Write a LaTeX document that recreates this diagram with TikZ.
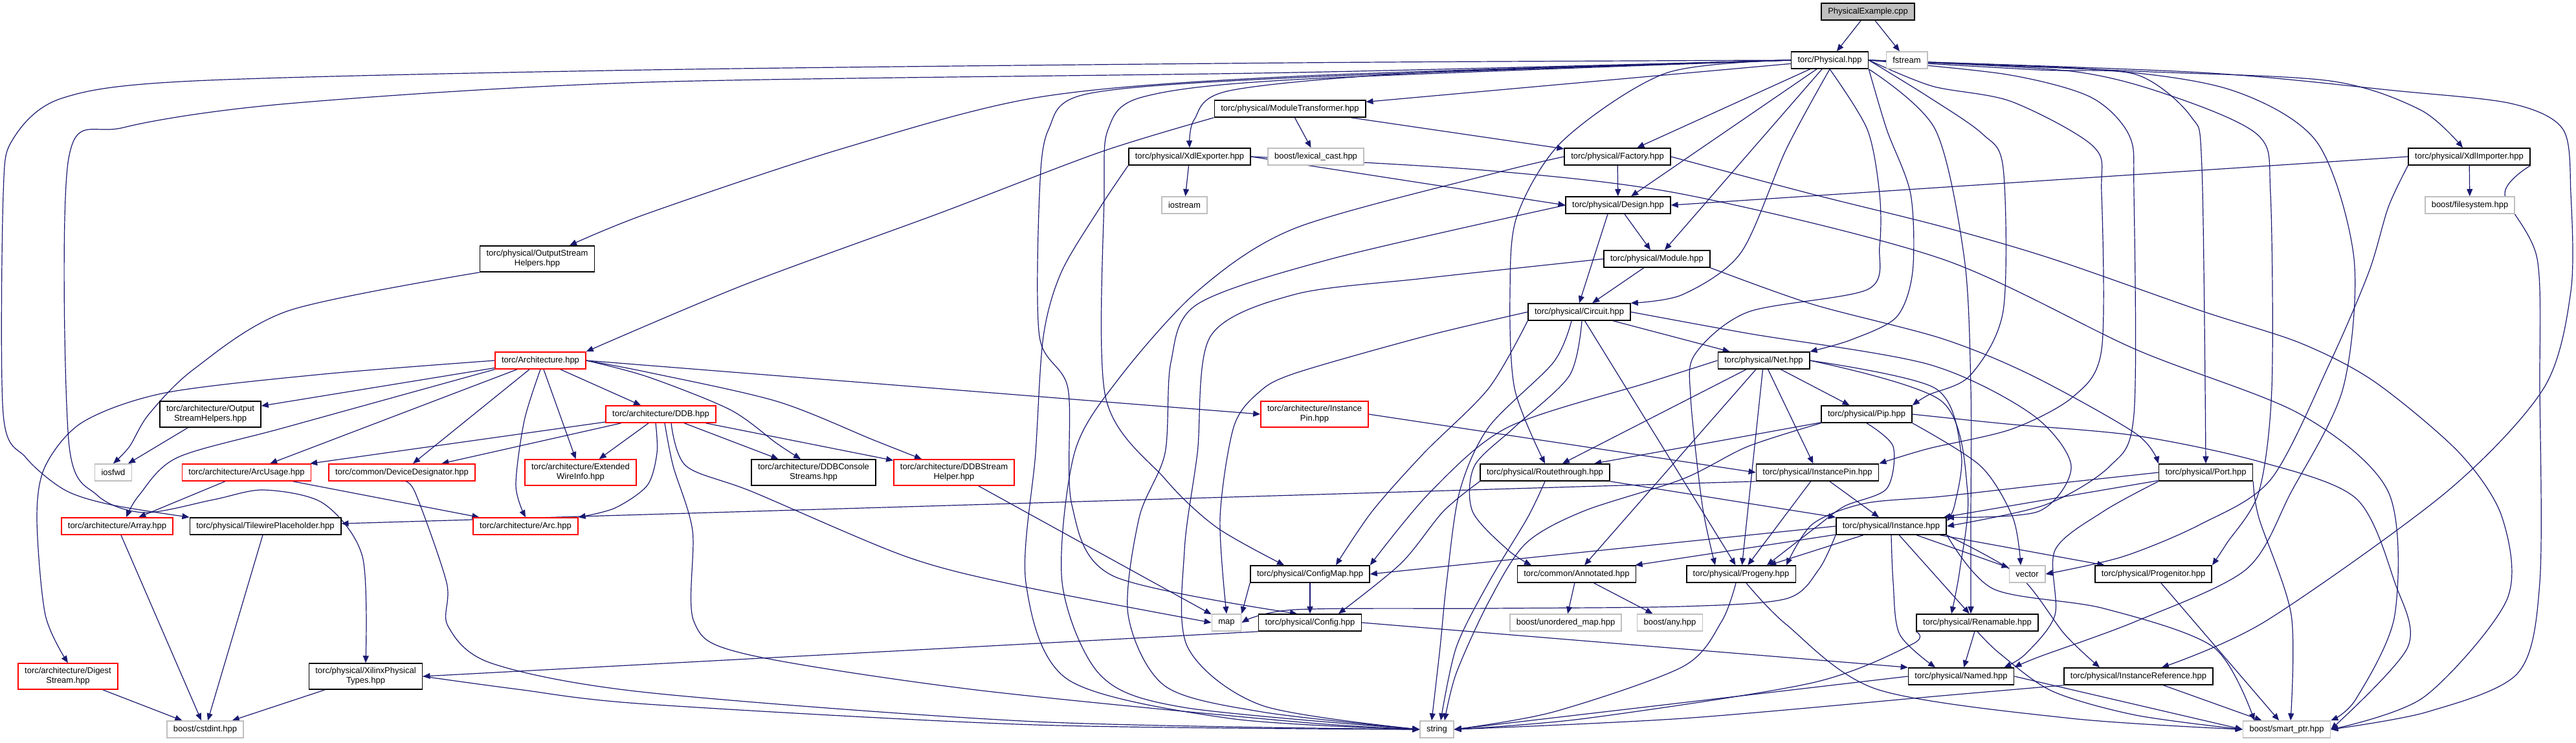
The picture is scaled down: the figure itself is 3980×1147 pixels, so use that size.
\documentclass[tikz,border=0pt]{standalone}
\usepackage{fontspec}
\setmainfont{Liberation Sans}
\usetikzlibrary{arrows.meta}
\definecolor{depblue}{RGB}{25,25,112}
\definecolor{sysgray}{RGB}{191,191,191}
\definecolor{truncred}{RGB}{255,0,0}
\pgfdeclarelayer{edges}
\pgfsetlayers{edges,main}
\tikzset{
  font=\fontsize{6.5}{7.5}\selectfont,
  >={Triangle[length=5.5pt,width=4.5pt]},
  hdr/.style={
    draw=black,
    line width=0.8pt,
    fill=white,
    align=center,
    inner xsep=5pt,
    inner ysep=0pt,
    minimum height=13pt
  },
  hdrtwo/.style={hdr,minimum height=20pt},
  trunc/.style={hdr,draw=truncred},
  trunctwo/.style={hdrtwo,draw=truncred},
  sys/.style={hdr,draw=sysgray},
  srcfile/.style={hdr,fill=sysgray},
  dep/.style={->,draw=depblue,line width=0.6pt}
}

\begin{document}
\begin{tikzpicture}[x=0.5pt,y=-0.5pt]
  \useasboundingbox (0,0) rectangle (3980,1147);

  \node[srcfile] at (2886,18) (root) {PhysicalExample.cpp};
  \node[hdr] at (2827,93) (phys) {torc/Physical.hpp};
  \node[sys] at (2946,93) (fstream) {fstream};

  \node[hdr] at (1993,168) (modtr) {torc/physical/ModuleTransformer.hpp};
  \node[sys] at (2033,242) (lexcast) {boost/lexical\_cast.hpp};
  \node[hdr] at (1838,242) (xdlexp) {torc/physical/XdlExporter.hpp};
  \node[sys] at (1830,317) (iostream) {iostream};
  \node[hdr] at (2499,242) (factory) {torc/physical/Factory.hpp};
  \node[hdr] at (2500,317) (design) {torc/physical/Design.hpp};
  \node[hdr] at (3815,242) (xdlimp) {torc/physical/XdlImporter.hpp};
  \node[sys] at (3816,317) (fsys) {boost/filesystem.hpp};

  \node[hdrtwo] at (830,400) (posh) {torc/physical/OutputStream\\Helpers.hpp};
  \node[hdr] at (2560,400) (module) {torc/physical/Module.hpp};
  \node[hdr] at (2440,482) (circuit) {torc/physical/Circuit.hpp};
  \node[trunc] at (835,557) (arch) {torc/Architecture.hpp};
  \node[hdr] at (2725,557) (net) {torc/physical/Net.hpp};

  \node[hdrtwo] at (325,640) (aosh) {torc/architecture/Output\\StreamHelpers.hpp};
  \node[trunc] at (1021,640) (ddb) {torc/architecture/DDB.hpp};
  \node[trunctwo] at (2031,640) (ainstpin) {torc/architecture/Instance\\Pin.hpp};
  \node[hdr] at (2884,640) (pip) {torc/physical/Pip.hpp};

  \node[sys] at (175,730) (iosfwd) {iosfwd};
  \node[trunc] at (381,730) (arcusage) {torc/architecture/ArcUsage.hpp};
  \node[trunc] at (621,730) (devdes) {torc/common/DeviceDesignator.hpp};
  \node[trunctwo] at (897,730) (extwire) {torc/architecture/Extended\\WireInfo.hpp};
  \node[hdrtwo] at (1257,730) (ddbcons) {torc/architecture/DDBConsole\\Streams.hpp};
  \node[trunctwo] at (1474,730) (ddbstream) {torc/architecture/DDBStream\\Helper.hpp};
  \node[hdr] at (2387,730) (routethru) {torc/physical/Routethrough.hpp};
  \node[hdr] at (2808,730) (instpin) {torc/physical/InstancePin.hpp};
  \node[hdr] at (3408,730) (port) {torc/physical/Port.hpp};

  \node[trunc] at (181,813) (array) {torc/architecture/Array.hpp};
  \node[hdr] at (410,813) (tileph) {torc/physical/TilewirePlaceholder.hpp};
  \node[trunc] at (812,813) (arc) {torc/architecture/Arc.hpp};
  \node[hdr] at (2922,813) (instance) {torc/physical/Instance.hpp};

  \node[hdr] at (2024,887) (configmap) {torc/physical/ConfigMap.hpp};
  \node[hdr] at (2436,887) (annotated) {torc/common/Annotated.hpp};
  \node[hdr] at (2690,887) (progeny) {torc/physical/Progeny.hpp};
  \node[sys] at (3132,887) (vector) {vector};
  \node[hdr] at (3327,887) (progenitor) {torc/physical/Progenitor.hpp};

  \node[sys] at (1895,962) (map) {map};
  \node[hdr] at (2024,962) (config) {torc/physical/Config.hpp};
  \node[sys] at (2419,962) (unordmap) {boost/unordered\_map.hpp};
  \node[sys] at (2580,962) (any) {boost/any.hpp};
  \node[hdr] at (3055,962) (renamable) {torc/physical/Renamable.hpp};

  \node[trunctwo] at (105,1045) (digest) {torc/architecture/Digest\\Stream.hpp};
  \node[hdrtwo] at (565,1045) (xilinx) {torc/physical/XilinxPhysical\\Types.hpp};
  \node[hdr] at (3030,1045) (named) {torc/physical/Named.hpp};
  \node[hdr] at (3304,1045) (instref) {torc/physical/InstanceReference.hpp};

  \node[sys] at (317,1127) (cstdint) {boost/cstdint.hpp};
  \node[sys] at (2220,1127) (string) {string};
  \node[sys] at (3533,1127) (smartptr) {boost/smart\_ptr.hpp};

  \begin{pgfonlayer}{edges}
  \draw[dep] (root) -- (phys);
  \draw[dep] (root) -- (fstream);

  \draw[dep] plot[smooth] coordinates {(phys.west) (2000,97) (1000,108) (300,125) (95,152) (20,215) (5,300) (5,640) (40,707) (100,757) (172,780) (tileph.north west)};
  \draw[dep] plot[smooth] coordinates {(phys.west) (2000,112) (1000,127) (446,160) (191,197) (106,245) (106,680) (150,765) (223,792) (330,772) (408,757) (500,778) (560,860) (xilinx.north)};
  \draw[dep] plot[smooth] coordinates {(phys.west) (2000,118) (1606,150) (1300,230) (1000,330) ([xshift=25pt]posh.north)};
  \draw[dep] plot[smooth] coordinates {(phys.west) (2000,120) (1680,145) (1620,200) (1606,300) (1606,520) (1650,600) (1656,780) (1720,890) ([xshift=-10pt]config.north)};
  \draw[dep] plot[smooth] coordinates {(phys.west) (2000,123) (1765,150) (1712,200) (1706,300) (1708,613) (1800,740) (1880,815) ([xshift=-20pt]configmap.north)};
  \draw[dep] (phys) -- (modtr);
  \draw[dep] plot[smooth] coordinates {(phys.west) (2200,112) (1900,140) (1845,185) (xdlexp.north)};
  \draw[dep] (phys) -- (factory);
  \draw[dep] (phys) -- (design);
  \draw[dep] (phys) -- (module);
  \draw[dep] plot[smooth] coordinates {(phys.south) (2760,230) (2690,390) (2600,455) (circuit.north east)};
  \draw[dep] plot[smooth] coordinates {(phys.west) (2574,113) (2415,217) (2344,333) (2333,450) (2340,600) (routethru.north)};
  \draw[dep] plot[smooth] coordinates {(phys.south east) (2915,200) (2952,300) (2955,420) (2930,490) (2860,525) (net.north east)};
  \draw[dep] plot[smooth] coordinates {(phys.south) (2885,200) (2904,300) (2904,380) (2886,447) (2701,482) (2619,547) (2612,613) (2630,780) ([xshift=-20pt]progeny.north)};
  \draw[dep] plot[smooth] coordinates {(phys.east) (2980,150) (3063,207) (3095,260) (3095,480) (3044,580) (2980,610) (pip.north east)};
  \draw[dep] plot[smooth] coordinates {(phys.east) (2985,133) (3108,157) (3235,227) (3247,300) (3247,540) (3203,613) (3108,663) (2980,693) (instpin.north east)};
  \draw[dep] plot[smooth] coordinates {(phys.east) (3100,115) (3230,150) (3290,210) (3297,300) (3297,640) (3260,720) (3160,780) (instance.east)};
  \draw[dep] plot[smooth] coordinates {(phys.east) (3150,108) (3300,115) (3385,180) (3402,260) (port.north)};
  \draw[dep] plot[smooth] coordinates {(phys.east) (3200,110) (3360,150) (3490,210) (3508,300) (3510,600) (3490,760) (3440,840) (progenitor.north east)};
  \draw[dep] plot[smooth] coordinates {(phys.east) (3250,108) (3450,140) (3580,220) (3637,400) (3620,600) (3540,760) (3470,880) (3300,960) (3150,1015) (named.north east)};
  \draw[dep] plot[smooth] coordinates {(phys.south east) (2990,200) (3035,400) (3045,600) (3045,800) ([xshift=-5pt]renamable.north)};
  \draw[dep] plot[smooth] coordinates {(phys.east) (3300,110) (3600,125) (3740,170) ([xshift=-5pt]xdlimp.north)};
  \draw[dep] plot[smooth] coordinates {(phys.east) (3400,112) (3700,140) (3880,160) (3960,200) (3972,300) (3972,450) (3930,600) (3780,760) (3500,960) ([xshift=18pt]instref.north)};

  \draw[dep] (modtr) -- (lexcast);
  \draw[dep] (modtr) -- (factory);
  \draw[dep] plot[smooth] coordinates {(modtr.south west) (1700,235) (1450,330) (1150,440) (arch.north east)};

  \draw[dep] (xdlexp) -- (iostream);
  \draw[dep] (xdlexp.east) -- (design.west);
  \draw[dep] plot[smooth] coordinates {(xdlexp.south west) (1700,320) (1640,420) (1612,520) (1600,700) (1585,900) (1650,1050) (1900,1110) (string.west)};
  \draw[dep] plot[smooth] coordinates {(xdlexp.east) (2293,263) (2600,300) (3000,400) (3300,540) (3554,640) (3690,760) (3700,950) (3640,1080) (smartptr.north east)};

  \draw[dep] (factory) -- (design);
  \draw[dep] plot[smooth] coordinates {(factory.west) (2300,270) (2000,353) (1850,450) (1727,587) (1660,700) (1641,900) (1700,1043) (1829,1093) (string.west)};
  \draw[dep] plot[smooth] coordinates {(factory.east) (2800,300) (3000,350) (3171,400) (3400,480) (3554,530) (3669,590) (3800,700) (3866,800) (3873,927) (3745,1077) (smartptr.east)};

  \draw[dep] (design) -- (module);
  \draw[dep] ([xshift=-8pt]design.south) -- (circuit.north);
  \draw[dep] plot[smooth] coordinates {(design.west) (2057,400) (1850,470) (1809,560) (1800,700) (1760,800) (1743,950) (1800,1060) (1950,1100) (string.west)};

  \draw[dep] (xdlimp) -- (fsys);
  \draw[dep] (xdlimp.west) -- (design.east);
  \draw[dep] plot[smooth] coordinates {(xdlimp.south west) (3690,320) (3660,420) (3600,560) (3509,740) (3400,810) (3280,860) (vector.east)};
  \draw[dep] plot[smooth] coordinates {(xdlimp.south east) (3870,300) (3920,400) (3924,600) (3924,900) (3890,1040) (3750,1100) (smartptr.east)};

  \draw[dep] (module) -- (circuit);
  \draw[dep] plot[smooth] coordinates {(module.south east) (2800,470) (3000,523) (3139,580) (3300,670) (port.north west)};
  \draw[dep] plot[smooth] coordinates {(module.west) (2200,430) (2000,455) (1870,520) (1850,700) (1830,850) (1835,1000) (1950,1090) (string.west)};

  \draw[dep] (circuit) -- (net);
  \draw[dep] plot[smooth] coordinates {(circuit.west) (2200,520) (2000,577) (1944,607) (1906,660) (1885,800) (map.north)};
  \draw[dep] plot[smooth] coordinates {(circuit.south west) (2300,600) (2200,700) (2120,790) ([xshift=20pt]configmap.north)};
  \draw[dep] plot[smooth] coordinates {([xshift=-6pt]circuit.south) (2400,560) (2300,660) (2255,760) (2235,900) (2225,1000) ([xshift=-4pt]string.north)};
  \draw[dep] plot[smooth] coordinates {([xshift=2pt]circuit.south) (2425,580) (2340,660) (2278,720) (2275,790) (2330,850) ([xshift=-35pt]annotated.north)};
  \draw[dep] (circuit) -- (progeny);
  \draw[dep] plot[smooth] coordinates {(circuit.east) (2700,515) (2980,563) (3139,640) (3200,720) (3150,790) (instance.north east)};

  \draw[dep] (net) -- (pip);
  \draw[dep] (net) -- (routethru);
  \draw[dep] (net) -- (instpin);
  \draw[dep] (net) -- (annotated);
  \draw[dep] (net) -- (progeny);
  \draw[dep] plot[smooth] coordinates {(net.west) (2550,590) (2330,660) (2210,760) (configmap.north east)};
  \draw[dep] plot[smooth] coordinates {(net.east) (2990,600) (3030,700) (3020,780) ([yshift=4pt]instance.east)};
  \draw[dep] plot[smooth] coordinates {(net.east) (3000,620) (3040,760) (3028,880) ([xshift=-20pt]renamable.north)};

  \draw[dep] (pip) -- (routethru);
  \draw[dep] plot[smooth] coordinates {(pip.south) (2925,690) (2915,755) (2850,782) (2805,815) ([xshift=20pt]progeny.north)};
  \draw[dep] plot[smooth] coordinates {(pip.south west) (2700,690) (2600,740) (2446,790) (2357,840) (2300,930) (2250,1040) ([xshift=6pt]string.north)};
  \draw[dep] plot[smooth] coordinates {(pip.east) (3100,655) (3299,673) (3490,713) (3640,770) (3700,900) (3720,1000) (smartptr.east)};
  \draw[dep] plot[smooth] coordinates {(pip.south east) (3060,720) (3110,800) ([xshift=-5pt]vector.north)};

  \draw[dep] plot[smooth] coordinates {(routethru.south west) (2230,790) (2165,870) ([xshift=22pt]config.north)};
  \draw[dep] plot[smooth] coordinates {(routethru.south) (2360,800) (2300,900) (2250,1000) ([xshift=3pt]string.north)};
  \draw[dep] (routethru.south east) -- (instance.north west);

  \draw[dep] (instpin) -- (instance);
  \draw[dep] (instpin) -- (progeny);
  \draw[dep] (instpin.south west) -- ([yshift=2pt]tileph.east);

  \draw[dep] (port) -- (instance);
  \draw[dep] plot[smooth] coordinates {(port.west) (3150,750) (3000,767) (2880,778) (2800,810) ([xshift=35pt]progeny.north)};
  \draw[dep] plot[smooth] coordinates {(port.south west) (3250,790) (3175,850) (3175,950) (3130,1010) ([xshift=-8pt]named.north east)};
  \draw[dep] plot[smooth] coordinates {(port.south east) (3490,800) (3540,950) ([xshift=3pt]smartptr.north)};

  \draw[dep] (instance.west) -- (configmap.east);
  \draw[dep] (instance) -- (annotated);
  \draw[dep] (instance) -- (progeny);
  \draw[dep] plot[smooth] coordinates {(instance.south west) (2810,880) (2760,925) (2600,937) (2300,940) (2000,942) (map.east)};
  \draw[dep] plot[smooth] coordinates {(instance.south) (2925,900) (2935,980) ([xshift=-20pt]named.north)};
  \draw[dep] (instance) -- (renamable);
  \draw[dep] (instance) -- (vector);
  \draw[dep] (instance) -- (progenitor);
  \draw[dep] plot[smooth] coordinates {(instance.south east) (3120,890) (3190,980) ([xshift=-30pt]instref.north)};
  \draw[dep] plot[smooth] coordinates {(instance.south east) (3080,910) (3250,940) (3420,1000) ([xshift=-25pt]smartptr.north)};

  \draw[dep] (configmap) -- (config);
  \draw[dep] (configmap.south west) -- (map.north east);
  \draw[dep] (config.south west) -- (xilinx.east);
  \draw[dep] (config.east) -- (named.north west);
  \draw[dep] (annotated) -- (unordmap);
  \draw[dep] (annotated) -- (any);
  \draw[dep] plot[smooth] coordinates {([xshift=-4pt]progeny.south) (2660,960) (2600,1030) (2400,1100) (string.east)};
  \draw[dep] plot[smooth] coordinates {([xshift=4pt]progeny.south) (2760,965) (2900,1065) (3200,1110) (smartptr.west)};
  \draw[dep] (progenitor) -- (smartptr);
  \draw[dep] (renamable) -- (named);
  \draw[dep] plot[smooth] coordinates {(renamable.south) (3090,1010) (3171,1068) (3300,1105) (smartptr.west)};
  \draw[dep] plot[smooth] coordinates {(renamable.south west) (2955,995) (2800,1055) (2450,1110) (string.east)};
  \draw[dep] (named.west) -- (string.east);
  \draw[dep] (named.east) -- (smartptr.west);
  \draw[dep] plot[smooth] coordinates {(instref.south west) (3000,1075) (2600,1110) (string.east)};
  \draw[dep] (instref) -- (smartptr);

  \draw[dep] (xilinx) -- (cstdint);
  \draw[dep] plot[smooth] coordinates {(xilinx.east) (800,1065) (1000,1088) (1600,1120) (string.west)};
  \draw[dep] (tileph) -- (cstdint);
  \draw[dep] (array) -- (cstdint);
  \draw[dep] (digest) -- (cstdint);

  \draw[dep] plot[smooth] coordinates {(arch.west) (500,578) (255,607) (128,652) (70,720) (57,800) (70,950) (digest.north)};
  \draw[dep] (arch) -- (aosh);
  \draw[dep] plot[smooth] coordinates {(arch.south west) (442,660) (274,707) (215,765) ([xshift=7pt]array.north)};
  \draw[dep] (arch) -- (arcusage);
  \draw[dep] (arch) -- (devdes);
  \draw[dep] plot[smooth] coordinates {(arch.south) (810,650) (797,750) (arc.north)};
  \draw[dep] (arch) -- (extwire);
  \draw[dep] (arch) -- (ddb);
  \draw[dep] plot[smooth] coordinates {(arch.east) (1000,582) (1128,633) (1200,685) ([xshift=-10pt]ddbcons.north)};
  \draw[dep] plot[smooth] coordinates {(arch.east) (1000,575) (1200,620) (1350,680) ([xshift=-25pt]ddbstream.north)};
  \draw[dep] (arch.east) -- (ainstpin.west);
  \draw[dep] (aosh) -- (iosfwd);
  \draw[dep] plot[smooth] coordinates {(posh.south west) (446,480) (300,570) (230,640) (200,690) (iosfwd.north)};

  \draw[dep] (ddb) -- (arcusage);
  \draw[dep] (ddb) -- (devdes);
  \draw[dep] (ddb) -- (extwire);
  \draw[dep] (ddb) -- (ddbcons);
  \draw[dep] (ddb) -- (ddbstream);
  \draw[dep] plot[smooth] coordinates {([xshift=-4pt]ddb.south) (1015,700) (1000,750) (950,785) (arc.north east)};
  \draw[dep] plot[smooth] coordinates {([xshift=8pt]ddb.south) (1060,720) (1163,760) (1400,860) (1574,905) (map.west)};
  \draw[dep] plot[smooth] coordinates {([xshift=3pt]ddb.south) (1040,720) (1070,820) (1072,960) (1150,1010) (1500,1065) (2000,1115) (string.west)};
  \draw[dep] (arcusage) -- (array);
  \draw[dep] (arcusage) -- (arc);
  \draw[dep] plot[smooth] coordinates {(devdes.south) (641,760) (690,900) (692,967) (760,1025) (1000,1070) (1600,1115) (string.west)};
  \draw[dep] (ddbstream) -- (map);
  \draw[dep] (ainstpin.east) -- (instpin.west);
  \end{pgfonlayer}

\end{tikzpicture}
\end{document}
